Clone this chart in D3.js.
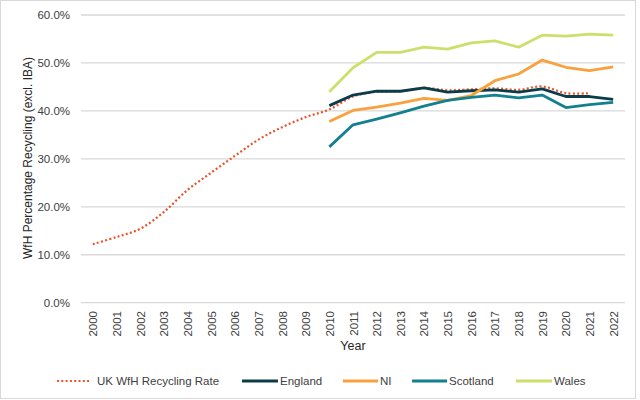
<!DOCTYPE html>
<html>
<head>
<meta charset="utf-8">
<script src="https://cdn.jsdelivr.net/npm/d3@7"></script>
<style>
  body { margin: 0; background: #fff; }
  svg { font-family: "Liberation Sans", Arial, sans-serif; }
</style>
</head>
<body>
<svg width="640" height="400"></svg>
<script>
// years along the x axis
var years = d3.range(2000, 2023).map(String);

// values in %
var ukYears = years.slice(0, 22);
var ukRate = [12.2, 13.7, 15.4, 18.9, 23.5, 27.1, 30.6, 34.0, 36.6, 38.7, 40.3,
              43.0, 44.0, 44.1, 44.8, 44.3, 44.5, 44.7, 44.4, 45.1, 43.7, 43.7];

var nationYears = years.slice(10);
var england  = [41.1, 43.3, 44.1, 44.1, 44.8, 43.9, 44.2, 44.4, 43.9, 44.6, 43.0, 43.0, 42.4];
var ni       = [37.8, 40.1, 40.8, 41.6, 42.6, 42.2, 43.2, 46.3, 47.7, 50.6, 49.1, 48.4, 49.2];
var scotland = [32.5, 37.1, 38.3, 39.6, 41.0, 42.2, 42.8, 43.3, 42.7, 43.3, 40.7, 41.3, 41.8];
var wales    = [44.0, 49.0, 52.2, 52.2, 53.3, 52.9, 54.2, 54.6, 53.3, 55.8, 55.6, 56.0, 55.8];

var yTicks = [0, 10, 20, 30, 40, 50, 60];

var svg = d3.select("svg");

// chart area border
svg.append("rect")
    .attr("x", 0.5).attr("y", 0.5)
    .attr("width", 635).attr("height", 398)
    .attr("fill", "none").attr("stroke", "#d9d9d9");

var x = d3.scalePoint().domain(years).range([81, 625]).padding(0.5);
var y = d3.scaleLinear().domain([0, 60]).range([302.7, 15]);

// gridlines
svg.append("g").selectAll("line")
    .data(yTicks).enter()
    .append("line")
    .attr("x1", 81).attr("x2", 625)
    .attr("y1", d => y(d)).attr("y2", d => y(d))
    .attr("stroke", "#d9d9d9").attr("stroke-width", 1.3);

// y axis labels
var yAx = d3.axisLeft(y).tickValues(yTicks)
    .tickFormat(d => d.toFixed(1) + "%").tickSize(0).tickPadding(0);
svg.append("g")
    .attr("transform", "translate(70,0)")
    .call(yAx)
    .call(g => g.select(".domain").remove())
    .selectAll("text")
    .attr("font-size", "11.5px").attr("fill", "#404040");

// x axis labels, rotated
var xAx = d3.axisBottom(x).tickSize(0).tickPadding(0);
svg.append("g")
    .attr("transform", "translate(0,311)")
    .call(xAx)
    .call(g => g.select(".domain").remove())
    .selectAll("text")
    .attr("font-size", "11.5px").attr("fill", "#404040")
    .attr("transform", "rotate(-90)")
    .attr("text-anchor", "end")
    .attr("x", 0).attr("y", 0).attr("dy", "0.35em");

// axis titles
svg.append("text")
    .attr("transform", "translate(28,158) rotate(-90)")
    .attr("text-anchor", "middle").attr("dy", "0.35em")
    .attr("font-size", "12px").attr("fill", "#262626")
    .text("WfH Percentage Recycling (excl. IBA)");

svg.append("text")
    .attr("x", 353).attr("y", 346)
    .attr("text-anchor", "middle").attr("dy", "0.35em")
    .attr("font-size", "12.5px").attr("fill", "#262626")
    .text("Year");

// UK rate first (sits underneath), smoothed dotted line
var ukMkr = d3.line().curve(d3.curveCatmullRom.alpha(0.5))
    .x(d => x(d[0])).y(d => y(d[1]));
svg.append("path")
    .attr("fill", "none")
    .attr("stroke", "#e8542a").attr("stroke-width", 2.2)
    .attr("stroke-dasharray", "2,2.3")
    .attr("d", ukMkr(d3.zip(ukYears, ukRate)));

var series = [
    {name: "England",  vals: england,  color: "#0b3c49"},
    {name: "NI",       vals: ni,       color: "#f9a13c"},
    {name: "Scotland", vals: scotland, color: "#13808f"},
    {name: "Wales",    vals: wales,    color: "#cbe06c"}
];

var lnMkr = d3.line().x(d => x(d[0])).y(d => y(d[1]));
series.forEach(function(s) {
    svg.append("path")
        .attr("fill", "none")
        .attr("stroke", s.color).attr("stroke-width", 2.8)
        .attr("stroke-linejoin", "round")
        .attr("d", lnMkr(d3.zip(nationYears, s.vals)));
});

// legend
var legend = [
    {name: "UK WfH Recycling Rate", color: "#e8542a", x1: 57, x2: 91, dotted: true},
    {name: "England",  color: "#0b3c49", x1: 242, x2: 278},
    {name: "NI",       color: "#f9a13c", x1: 343, x2: 378},
    {name: "Scotland", color: "#13808f", x1: 412, x2: 447},
    {name: "Wales",    color: "#cbe06c", x1: 516, x2: 552}
];
var lg = svg.append("g").selectAll("g")
    .data(legend).enter().append("g");
lg.append("line")
    .attr("x1", d => d.x1).attr("x2", d => d.x2)
    .attr("y1", 381).attr("y2", 381)
    .attr("stroke", d => d.color)
    .attr("stroke-width", d => d.dotted ? 2.2 : 2.8)
    .attr("stroke-dasharray", d => d.dotted ? "2,2.3" : null);
lg.append("text")
    .attr("x", d => d.x2 + (d.dotted ? 6 : 2)).attr("y", 381)
    .attr("dy", "0.35em")
    .attr("font-size", "11.5px").attr("fill", "#404040")
    .text(d => d.name);
</script>
</body>
</html>
